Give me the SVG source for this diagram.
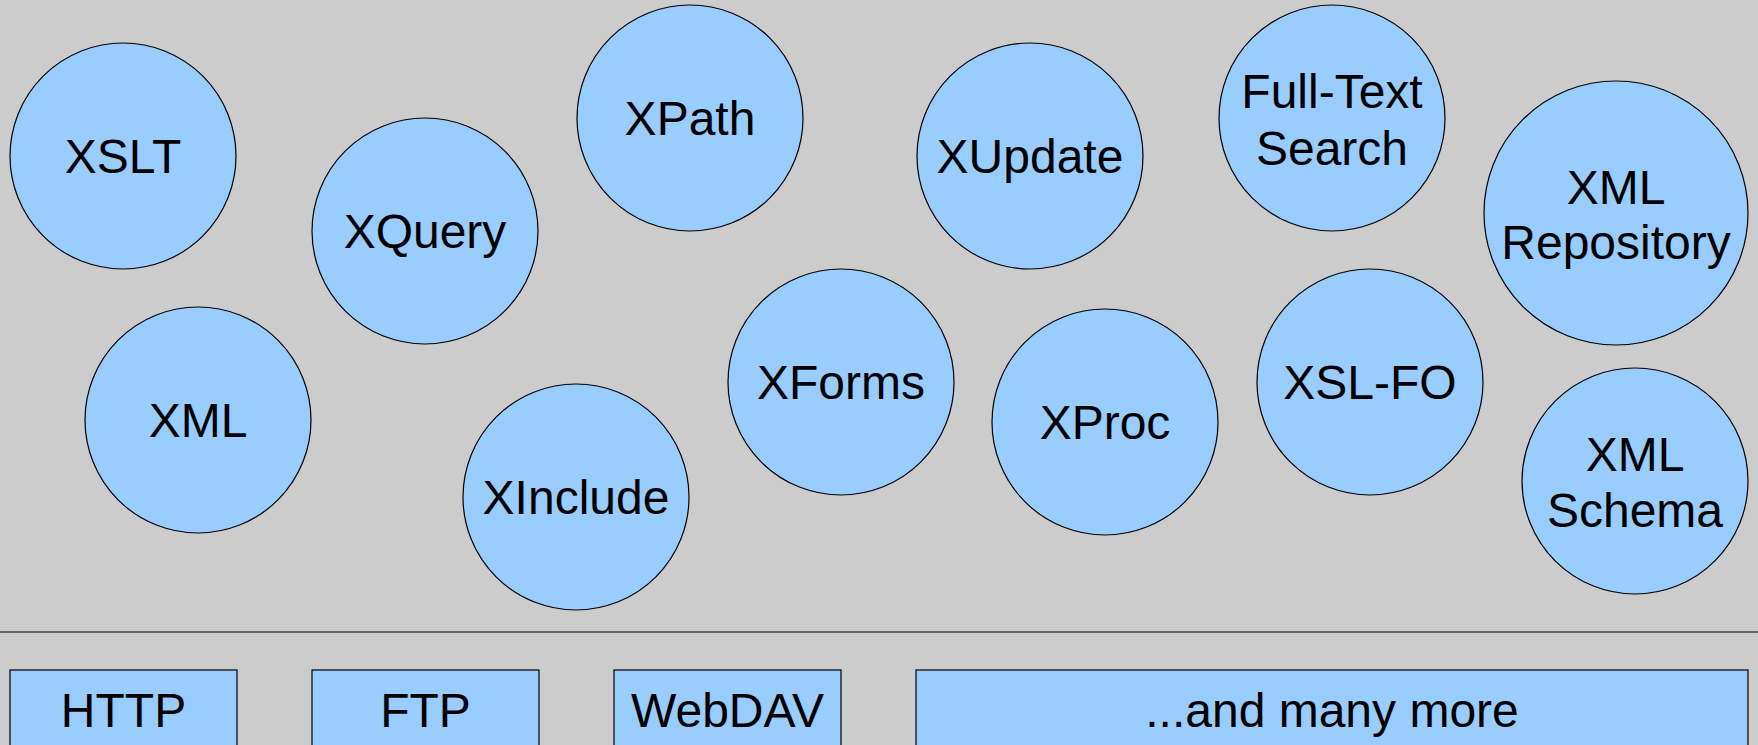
<svg xmlns="http://www.w3.org/2000/svg" width="1758" height="745" viewBox="0 0 1758 745">
<style>
.n circle{fill:#99ccff;stroke:#000;stroke-width:1.2}
.n rect{fill:#99ccff;stroke:#000;stroke-width:1.2}
text{font-family:"Liberation Sans",Arial,sans-serif;font-size:48px;fill:#000;text-anchor:middle}
</style>
<rect x="0" y="0" width="1758" height="745" fill="#cccccc"/>
<g id="connectors">
<line x1="0" y1="632" x2="1758" y2="632" stroke="#000" stroke-width="1.2"/>
</g>
<g id="xslt" class="n"><circle cx="123" cy="156" r="113"/><text x="123" y="173">XSLT</text></g>
<g id="xquery" class="n"><circle cx="425" cy="231" r="113"/><text x="425" y="248">XQuery</text></g>
<g id="xpath" class="n"><circle cx="690" cy="118" r="113"/><text x="690" y="135">XPath</text></g>
<g id="xupdate" class="n"><circle cx="1030" cy="156" r="113"/><text x="1030" y="173">XUpdate</text></g>
<g id="fulltext" class="n"><circle cx="1332" cy="118" r="113"/><text x="1332" y="108">Full-Text</text><text x="1332" y="165">Search</text></g>
<g id="xmlrepo" class="n"><circle cx="1616" cy="213" r="132"/><text x="1616" y="204">XML</text><text x="1616" y="259">Repository</text></g>
<g id="xml" class="n"><circle cx="198" cy="420" r="113"/><text x="198" y="437">XML</text></g>
<g id="xinclude" class="n"><circle cx="576" cy="497" r="113"/><text x="576" y="514">XInclude</text></g>
<g id="xforms" class="n"><circle cx="841" cy="382" r="113"/><text x="841" y="399">XForms</text></g>
<g id="xproc" class="n"><circle cx="1105" cy="422" r="113"/><text x="1105" y="439">XProc</text></g>
<g id="xslfo" class="n"><circle cx="1370" cy="382" r="113"/><text x="1370" y="399">XSL-FO</text></g>
<g id="xmlschema" class="n"><circle cx="1635" cy="481" r="113"/><text x="1635" y="471">XML</text><text x="1635" y="527">Schema</text></g>
<g id="http" class="n"><rect x="10" y="670" width="227" height="90"/><text x="123.5" y="727">HTTP</text></g>
<g id="ftp" class="n"><rect x="312" y="670" width="227" height="90"/><text x="425.5" y="727">FTP</text></g>
<g id="webdav" class="n"><rect x="614" y="670" width="227" height="90"/><text x="727.5" y="727">WebDAV</text></g>
<g id="more" class="n"><rect x="916" y="670" width="832" height="90"/><text x="1332" y="727">...and many more</text></g>
</svg>
